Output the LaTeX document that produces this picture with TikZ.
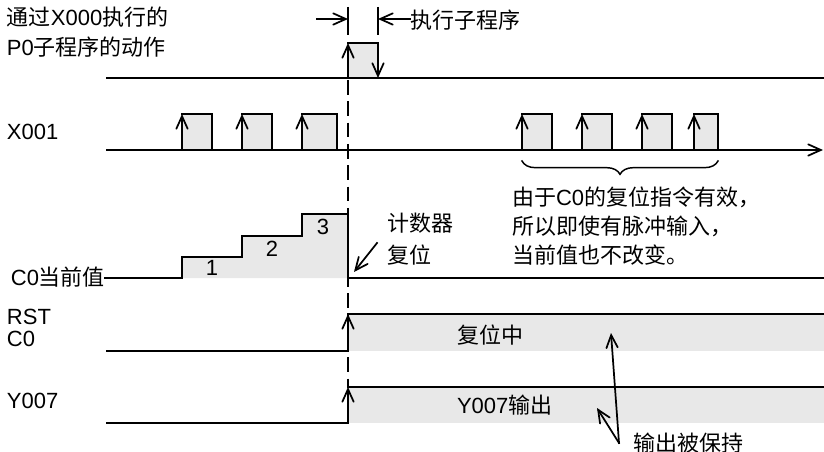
\documentclass[tikz,border=0pt]{standalone}
\usepackage{fontspec}
\setmainfont{Liberation Sans}
\newfontfamily\cjk{Noto Sans CJK SC}
\usetikzlibrary{arrows.meta,decorations.pathreplacing}
\newcommand\zh[1]{{\cjk #1}}
\definecolor{gfill}{RGB}{232,232,232}
\begin{document}
\begin{tikzpicture}[x=0.75pt,y=-0.75pt,line width=1.3pt,line cap=rect,
  txt/.style={inner sep=0pt,outer sep=0pt,font=\fontsize{16.5}{20}\selectfont},
  arr/.style={-{Straight Barb[length=9.5pt,width=8.5pt,line cap=round]}},
  dash line/.style={line width=1.3pt,line cap=butt,dash pattern=on 11pt off 5pt}]
\useasboundingbox (0,0) rectangle (824,452);

% gray fills
\fill[gfill] (348,43) rectangle (378,78);
\foreach \a/\b in {182/212,242/272,302/337,522/552,582/612,642/672,694/718}
  \fill[gfill] (\a,114) rectangle (\b,150);
\fill[gfill] (182,278) -- (182,257) -- (242,257) -- (242,236) -- (302,236) -- (302,214) -- (348,214) -- (348,278) -- cycle;
\fill[gfill] (348,314) rectangle (824,351);
\fill[gfill] (348,387) rectangle (824,423);

% texts
\node[txt,anchor=base west] (t1) at (7,26) {\zh{通过}X000\zh{执行的}};
\node[txt,anchor=base west] (t2) at (7,56) {P0\zh{子程序的动作}};
\node[txt,anchor=base west] (exe) at (410,29) {\zh{执行子程序}};
\node[txt,anchor=base west] (x1) at (7,140) {X001};
\node[txt,anchor=base east] (c0) at (105,286) {C0\zh{当前值}};
\node[txt,anchor=base] (n1) at (212,276) {1};
\node[txt,anchor=base] (n2) at (272,257) {2};
\node[txt,anchor=base] (n3) at (323,235) {3};
\node[txt,anchor=base west] (cnt1) at (387,232) {\zh{计数器}};
\node[txt,anchor=base west] (cnt2) at (387,263) {\zh{复位}};
\node[txt,anchor=base west] (b1) at (512,206) {\zh{由于}C0\zh{的复位指令有效，}};
\node[txt,anchor=base west] (b2) at (512,235) {\zh{所以即使有脉冲输入，}};
\node[txt,anchor=base west] (b3) at (512,263) {\zh{当前值也不改变。}};
\node[txt,anchor=base west] (rst1) at (7,324) {RST};
\node[txt,anchor=base west] (rst2) at (7,346) {C0};
\node[txt,anchor=base west] (rsti) at (457,343) {\zh{复位中}};
\node[txt,anchor=base west] (y7) at (7,408) {Y007};
\node[txt,anchor=base west] (y7o) at (457,413) {Y007\zh{输出}};
\node[txt,anchor=base west] (hold) at (633,451) {\zh{输出被保持}};

% dashed marker
\draw[dash line] (348,80) -- (348,387);

% top dimension
\draw[line cap=butt] (348,7) -- (348,35);
\draw[line cap=butt] (378,7) -- (378,35);
\draw[arr] (317,19) -- (348,19);
\draw[arr] (exe.west |- 0,19) -- (378,19);

% P0 row
\draw (107,78) -- (824,78);
\draw[arr] (348,78) -- (348,43);
\draw[arr] (348,43) -- (378,43) -- (378,78);

% X001 row
\draw[arr] (107,150) -- (823,150);
\foreach \a/\b in {182/212,242/272,302/337,522/552,582/612,642/672,694/718}{
  \draw[arr] (\a,150) -- (\a,114);
  \draw (\a,114) -- (\b,114) -- (\b,150);
}
\draw[decorate,decoration={brace,amplitude=10pt},line width=1.1pt] (718,161) -- (522,161);

% C0 row
\draw (c0.east |- 0,278) -- (182,278) -- (182,257) -- (242,257) -- (242,236) -- (302,236) -- (302,214) -- (348,214) -- (348,278) -- (824,278);
\coordinate (rsA) at (377,243);
\coordinate (rsB) at (354,272);
\draw[arr] (rsA) -- (rsB);

% RST C0 row
\draw (107,351) -- (348,351);
\draw[arr] (348,351) -- (348,314);
\draw (348,314) -- (824,314);

% Y007 row
\draw (107,423) -- (348,423);
\draw[arr] (348,423) -- (348,387);
\draw (348,387) -- (824,387);

% hold arrows
\coordinate (hp) at (619,443);
\coordinate (hu) at (611,333);
\coordinate (hy) at (597,408);
\draw[arr] (hp) -- (hu);
\draw[arr] (hp) -- (hy);
\end{tikzpicture}
\end{document}
